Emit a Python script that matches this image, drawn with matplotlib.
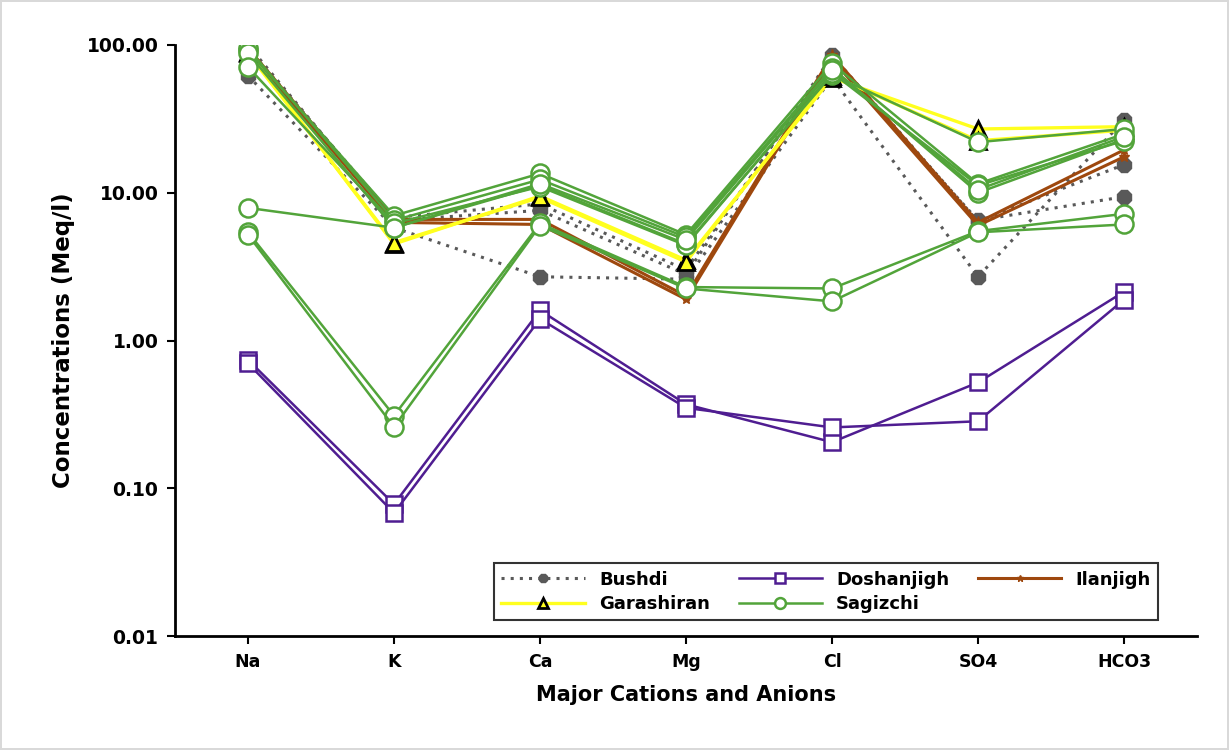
import matplotlib
matplotlib.use('Agg')
import matplotlib.pyplot as plt
from matplotlib.lines import Line2D

ions = ['Na', 'K', 'Ca', 'Mg', 'Cl', 'SO4', 'HCO3']
y_ticks = [0.01, 0.1, 1, 10, 100]
y_labels = ['0.01', '0.10', '1.00', '10.00', '100.00']

# samples per site, values in meq/l
bushdi = [
    [62, 5.8, 2.7, 2.6, 60, 2.7, 31],
    [100, 6.5, 7.6, 2.8, 85, 6.4, 15.5],
    [95, 6.8, 8.4, 3.0, 80, 6.5, 9.4],
]
doshanjigh = [
    [0.74, 0.078, 1.60, 0.37, 0.205, 0.52, 2.14],
    [0.70, 0.068, 1.40, 0.35, 0.258, 0.284, 1.89],
]
ilanjigh = [
    [95, 6.6, 6.6, 2.0, 85, 6.3, 19.5],
    [90, 6.3, 6.1, 1.9, 80, 6.0, 17.5],
]
garashiran = [
    [90, 4.5, 9.5, 3.5, 60, 27, 28],
    [88, 4.6, 9.3, 3.4, 62, 22.5, 26.5],
]
sagizchi = [
    [92, 7.0, 13.5, 5.2, 75, 11.5, 25],
    [95, 6.5, 12.3, 5.0, 70, 10.0, 23],
    [88, 5.8, 11.2, 4.5, 63, 22, 27],
    [71, 6.2, 11.0, 4.4, 65, 11.2, 22.5],
    [7.9, 5.8, 11.5, 4.8, 68, 10.5, 24],
    [5.4, 0.31, 6.2, 2.3, 2.25, 5.5, 7.2],
    [5.2, 0.26, 6.0, 2.25, 1.84, 5.4, 6.1],
]

styles = {
    'Bushdi': dict(color='#595959', linestyle=(0, (1, 2)), linewidth=2.2,
                   marker='8', markersize=11, markerfacecolor='#595959',
                   markeredgecolor='#595959', markeredgewidth=1),
    'Doshanjigh': dict(color='#4F1D91', linestyle='-', linewidth=1.8,
                       marker='s', markersize=12, markerfacecolor='white',
                       markeredgecolor='#4F1D91', markeredgewidth=1.8),
    'Ilanjigh': dict(color='#9E480E', linestyle='-', linewidth=2.2,
                     marker='*', markersize=8, markerfacecolor='#9E480E',
                     markeredgecolor='#9E480E'),
    'Garashiran': dict(color='#FFFF1F', linestyle='-', linewidth=2.4,
                       marker='^', markersize=11, markerfacecolor='#FFFF1F',
                       markeredgecolor='black', markeredgewidth=2),
    'Sagizchi': dict(color='#52A43A', linestyle='-', linewidth=1.8,
                     marker='o', markersize=13, markerfacecolor='white',
                     markeredgecolor='#52A43A', markeredgewidth=1.8),
}
sites = [('Bushdi', bushdi), ('Doshanjigh', doshanjigh), ('Ilanjigh', ilanjigh),
         ('Garashiran', garashiran), ('Sagizchi', sagizchi)]

fig = plt.figure(figsize=(12.29, 7.5), dpi=100)
fig.patch.set_edgecolor('#d9d9d9')
fig.patch.set_linewidth(1.5)
ax = fig.add_axes([0.1424, 0.152, 0.8316, 0.788])

x = list(range(len(ions)))
for name, samples in sites:
    for s in samples:
        ax.plot(x, s, **styles[name])

ax.set_yscale('log')
ax.set_ylim(0.01, 100)
ax.set_xlim(-0.5, len(ions) - 0.5)
ax.set_yticks(y_ticks)
ax.set_yticklabels(y_labels)
ax.minorticks_off()
ax.set_xticks(x)
ax.set_xticklabels(ions)
for lab in ax.get_xticklabels():
    lab.set_fontweight('bold')
    lab.set_fontsize(12.5)
for lab in ax.get_yticklabels():
    lab.set_fontweight('bold')
    lab.set_fontsize(13.5)
ax.tick_params(axis='both', direction='out', length=6, width=1.5, pad=6)

for side in ['top', 'right']:
    ax.spines[side].set_visible(False)
for side in ['left', 'bottom']:
    ax.spines[side].set_linewidth(2)

ax.set_xlabel('Major Cations and Anions', fontsize=15, fontweight='bold', labelpad=10)
ax.set_ylabel('Concentrations (Meq/l)', fontsize=16.5, fontweight='bold', labelpad=8)

# legend, column-first order to get rows like the original
order = ['Bushdi', 'Garashiran', 'Doshanjigh', 'Sagizchi', 'Ilanjigh']
handles = []
for name in order:
    st = dict(styles[name])
    st['markersize'] = st['markersize'] * 0.6
    handles.append(Line2D([0], [0], **st))
leg = ax.legend(handles, order, loc='lower right', ncol=3, bbox_to_anchor=(0.962, 0.027),
                borderaxespad=0, frameon=True, fancybox=False, edgecolor='black',
                handlelength=4.6, prop={'weight': 'bold', 'size': 13}, columnspacing=1.6,
                borderpad=0.4, labelspacing=0.35, handletextpad=0.8)
leg.get_frame().set_linewidth(1.5)

fig.savefig('out.png', dpi=100)
